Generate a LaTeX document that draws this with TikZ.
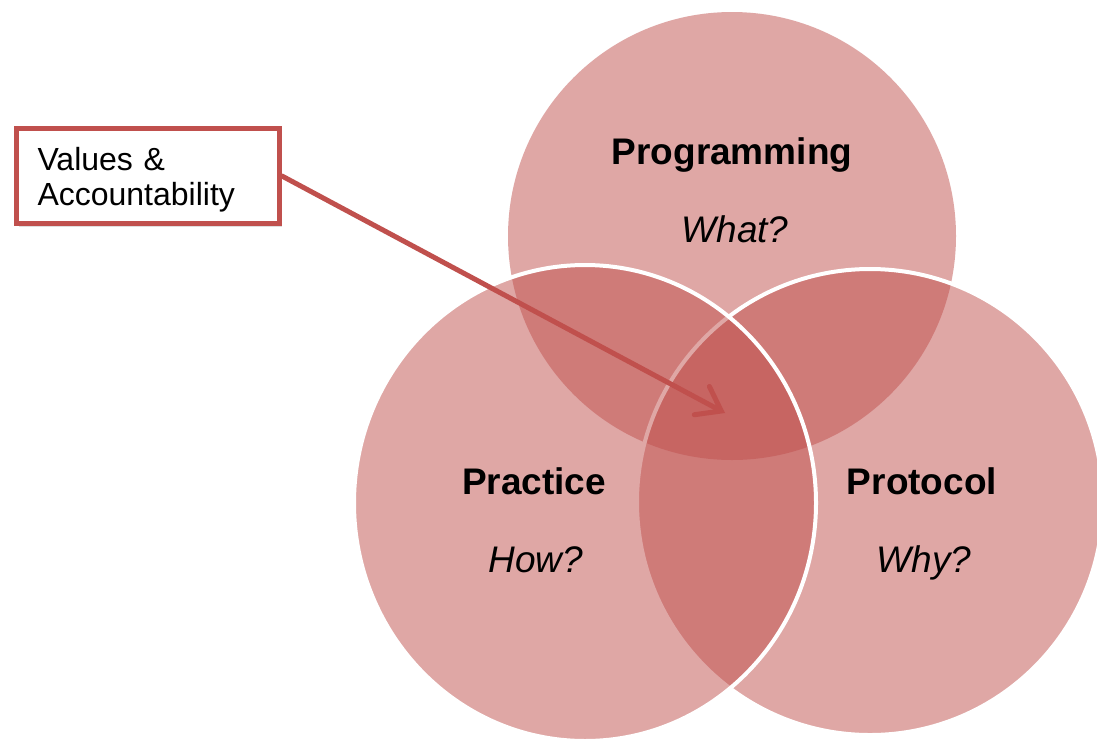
\documentclass[tikz,border=0pt]{standalone}
\usepackage{fontspec}
\setmainfont{Liberation Sans}
\usetikzlibrary{shadows,arrows.meta,shapes.geometric}
\definecolor{acc}{HTML}{C0504D}
\begin{document}
\begin{tikzpicture}[x=1pt,y=-1pt,
  venn/.style={circle, fill=acc, fill opacity=0.5, inner sep=0pt, outer sep=0pt},
  vennline/.style={venn, draw=white, line width=4pt},
  title/.style={font=\fontsize{37}{44}\selectfont\bfseries, anchor=base, inner sep=0pt},
  question/.style={font=\fontsize{37}{44}\selectfont\itshape, anchor=base, inner sep=0pt},
  callout/.style={draw=acc, line width=5pt, fill=white, rectangle,
    minimum width=263pt, minimum height=95pt, text width=221pt, align=left,
    inner xsep=21pt, inner ysep=0pt, anchor=north west,
    font=\fontsize{32}{35}\selectfont,
    drop shadow={shadow xshift=2pt, shadow yshift=-3pt, opacity=0.25}},
  pointer/.style={draw=acc, line width=5pt, line cap=round,
    -{Straight Barb[length=22pt,width=32pt,line cap=round]}}
]
\useasboundingbox (0,0) rectangle (1097,740);
\clip (0,0) rectangle (1097,740);
\fill[white] (0,0) rectangle (1097,740);

% Venn circles (order: top, right, left)
\node[venn, minimum size=448pt] (ctop) at (732,236) {};
\node[vennline, minimum size=466pt] (cright) at (870,502) {};
\node[vennline, ellipse, minimum width=462pt, minimum height=476pt] (cleft) at (585,503) {};

% labels
\node[title] (tprog) at (732,164) {Programming};
\node[question] (qwhat) at (735,242) {What?};
\node[title] (tprac) at (534,494) {Practice};
\node[question] (qhow) at (536,572) {How?};
\node[title] (tprot) at (922,494) {Protocol};
\node[question] (qwhy) at (924,572) {Why?};

% callout
\node[callout] (box) at (14,126) {\rule{0pt}{31pt}Values \&\\Accountability};
\coordinate (tip) at (725,413);
\draw[pointer] (box.east) -- (tip);
\end{tikzpicture}
\end{document}
